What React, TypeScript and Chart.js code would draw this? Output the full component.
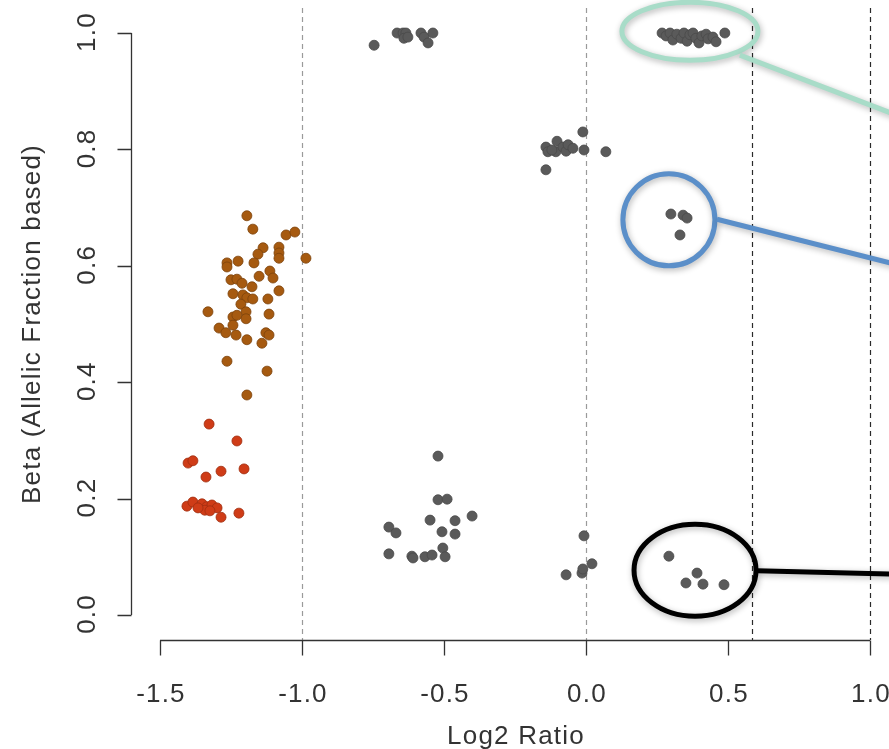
import React, { useEffect, useRef } from "react";
import { Chart, registerables } from "chart.js";
Chart.register(...registerables);

// ---- data (Log2 Ratio, Beta) ----
const grayTopLeft: [number, number][] = [
  [-0.746, 0.979], [-0.665, 1.0], [-0.644, 1.0], [-0.634, 1.0], [-0.641, 0.991],
  [-0.627, 0.993], [-0.581, 1.0], [-0.57, 0.993], [-0.556, 0.983], [-0.539, 1.0],
];
const grayTopRight: [number, number][] = [
  [0.268, 1.0], [0.282, 0.995], [0.296, 1.0], [0.306, 0.988], [0.32, 0.998], [0.335, 0.991],
  [0.345, 1.0], [0.356, 0.986], [0.366, 0.997], [0.377, 1.0], [0.387, 0.991], [0.398, 0.983],
  [0.408, 0.995], [0.423, 0.998], [0.43, 0.99], [0.447, 0.993], [0.458, 0.985], [0.489, 1.0],
];
const grayMidHigh: [number, number][] = [
  [-0.141, 0.804], [-0.134, 0.796], [-0.102, 0.814], [-0.106, 0.796], [-0.12, 0.799],
  [-0.081, 0.804], [-0.07, 0.797], [-0.063, 0.808], [-0.046, 0.802], [-0.011, 0.83],
  [-0.007, 0.799], [0.07, 0.796], [-0.141, 0.765],
];
const grayBlueGroup: [number, number][] = [
  [0.299, 0.689], [0.342, 0.687], [0.356, 0.682], [0.331, 0.653],
];
const grayBlackGroup: [number, number][] = [
  [0.292, 0.101], [0.391, 0.072], [0.352, 0.055], [0.412, 0.053], [0.486, 0.052],
];
const grayNearZero: [number, number][] = [
  [-0.007, 0.136], [0.021, 0.088], [-0.014, 0.072], [-0.011, 0.079], [-0.07, 0.069],
];
const grayLowMid: [number, number][] = [
  [-0.521, 0.273], [-0.521, 0.198], [-0.489, 0.199], [-0.694, 0.151], [-0.669, 0.141],
  [-0.549, 0.163], [-0.461, 0.162], [-0.401, 0.17], [-0.507, 0.143], [-0.461, 0.139],
  [-0.694, 0.105], [-0.613, 0.101], [-0.609, 0.098], [-0.567, 0.1], [-0.542, 0.103],
  [-0.504, 0.115], [-0.496, 0.1],
];
const brownPoints: [number, number][] = [
  [-1.194, 0.686], [-1.173, 0.663], [-1.056, 0.653], [-1.025, 0.658], [-1.137, 0.631],
  [-1.155, 0.62], [-1.081, 0.632], [-1.081, 0.622], [-1.081, 0.613], [-0.986, 0.613],
  [-1.264, 0.605], [-1.264, 0.598], [-1.225, 0.608], [-1.169, 0.605], [-1.151, 0.582],
  [-1.113, 0.591], [-1.102, 0.579], [-1.25, 0.576], [-1.229, 0.577], [-1.211, 0.57],
  [-1.176, 0.564], [-1.081, 0.557], [-1.243, 0.552], [-1.208, 0.55], [-1.194, 0.545],
  [-1.173, 0.543], [-1.12, 0.543], [-1.215, 0.534], [-1.331, 0.521], [-1.197, 0.521],
  [-1.116, 0.517], [-1.243, 0.512], [-1.229, 0.515], [-1.197, 0.509], [-1.243, 0.498],
  [-1.292, 0.493], [-1.268, 0.485], [-1.232, 0.481], [-1.127, 0.485], [-1.116, 0.481],
  [-1.194, 0.473], [-1.141, 0.467], [-1.264, 0.436], [-1.123, 0.419], [-1.194, 0.378],
];
const redPoints: [number, number][] = [
  [-1.327, 0.328], [-1.229, 0.299], [-1.401, 0.261], [-1.384, 0.265], [-1.338, 0.237],
  [-1.285, 0.247], [-1.204, 0.251], [-1.405, 0.187], [-1.384, 0.194], [-1.352, 0.191],
  [-1.335, 0.186], [-1.317, 0.189], [-1.299, 0.184], [-1.342, 0.18], [-1.324, 0.179],
  [-1.366, 0.184], [-1.285, 0.168], [-1.222, 0.175],
];

const xTicks = [-1.5, -1.0, -0.5, 0.0, 0.5, 1.0];
const xTickLabels = ["-1.5", "-1.0", "-0.5", "0.0", "0.5", "1.0"];
const yTicks = [0.0, 0.2, 0.4, 0.6, 0.8, 1.0];
const yTickLabels = ["0.0", "0.2", "0.4", "0.6", "0.8", "1.0"];
const lightRefLines = [-1.0, 0.0];
const darkRefLines = [0.585, 1.0];
const xTitle = "Log2 Ratio";
const yTitle = "Beta (Allelic Fraction based)";

// callout annotations (centres / line ends in data units)
const callouts = [
  { cx: 0.366, cy: 1.003, rx: 68, ry: 29, color: "#a8dcc8", from: [0.542, 0.962], to: [1.2, 0.839] },
  { cx: 0.292, cy: 0.679, rx: 46, ry: 46, color: "#5b8fc9", from: [0.461, 0.68], to: [1.2, 0.589] },
  { cx: 0.384, cy: 0.077, rx: 61, ry: 46, color: "#000000", from: [0.602, 0.076], to: [1.2, 0.069] },
];

const FONT = "26px 'Liberation Sans', Arial, Helvetica, sans-serif";
const TEXT = "#333333";

const toPts = (a: [number, number][]) => a.map(([x, y]) => ({ x, y }));

const rPlugin = {
  id: "rStyle",
  beforeDatasetsDraw(chart: any) {
    const { ctx, chartArea, scales } = chart;
    const xs = scales.x;
    ctx.save();
    ctx.lineWidth = 1.2;
    ctx.setLineDash([5, 4]);
    ctx.strokeStyle = "#9a9a9a";
    lightRefLines.forEach((v) => {
      const px = Math.round(xs.getPixelForValue(v)) + 0.5;
      ctx.beginPath();
      ctx.moveTo(px, chartArea.top);
      ctx.lineTo(px, chartArea.bottom);
      ctx.stroke();
    });
    ctx.strokeStyle = "#2a2a2a";
    darkRefLines.forEach((v) => {
      const px = Math.round(xs.getPixelForValue(v)) + 0.5;
      ctx.beginPath();
      ctx.moveTo(px, chartArea.top);
      ctx.lineTo(px, chartArea.bottom);
      ctx.stroke();
    });
    ctx.restore();
  },
  afterDatasetsDraw(chart: any) {
    const { ctx, chartArea, scales } = chart;
    const xs = scales.x;
    const ys = scales.y;
    ctx.save();
    // callouts
    callouts.forEach((c) => {
      ctx.save();
      ctx.shadowColor = "rgba(0,0,0,0.3)";
      ctx.shadowBlur = 6;
      ctx.shadowOffsetX = 1;
      ctx.shadowOffsetY = 2;
      ctx.strokeStyle = c.color;
      ctx.lineWidth = 5;
      ctx.beginPath();
      ctx.ellipse(xs.getPixelForValue(c.cx), ys.getPixelForValue(c.cy), c.rx, c.ry, 0, 0, Math.PI * 2);
      ctx.stroke();
      ctx.beginPath();
      ctx.moveTo(xs.getPixelForValue(c.from[0]), ys.getPixelForValue(c.from[1]));
      ctx.lineTo(xs.getPixelForValue(c.to[0]), ys.getPixelForValue(c.to[1]));
      ctx.stroke();
      ctx.restore();
    });

    // axes
    ctx.strokeStyle = "#333333";
    ctx.lineWidth = 1.3;
    ctx.setLineDash([]);
    const y0 = Math.round(chartArea.bottom) + 0.5;
    ctx.beginPath();
    ctx.moveTo(xs.getPixelForValue(xTicks[0]), y0);
    ctx.lineTo(xs.getPixelForValue(xTicks[xTicks.length - 1]), y0);
    xTicks.forEach((v) => {
      const px = Math.round(xs.getPixelForValue(v)) + 0.5;
      ctx.moveTo(px, y0);
      ctx.lineTo(px, y0 + 15);
    });
    ctx.stroke();
    const x0 = Math.round(chartArea.left) + 0.5;
    ctx.beginPath();
    ctx.moveTo(x0, ys.getPixelForValue(yTicks[0]));
    ctx.lineTo(x0, ys.getPixelForValue(yTicks[yTicks.length - 1]));
    yTicks.forEach((v) => {
      const py = Math.round(ys.getPixelForValue(v)) + 0.5;
      ctx.moveTo(x0, py);
      ctx.lineTo(x0 - 14, py);
    });
    ctx.stroke();

    // labels
    ctx.fillStyle = TEXT;
    ctx.font = FONT;
    (ctx as any).letterSpacing = "1.2px";
    ctx.textAlign = "center";
    ctx.textBaseline = "alphabetic";
    xTicks.forEach((v, i) => {
      ctx.fillText(xTickLabels[i], xs.getPixelForValue(v) + 1, 702);
    });
    ctx.fillText(xTitle, xs.getPixelForValue(-0.25) + 1, 744);
    yTicks.forEach((v, i) => {
      ctx.save();
      ctx.translate(95, ys.getPixelForValue(v) - 1);
      ctx.rotate(-Math.PI / 2);
      ctx.fillText(yTickLabels[i], 0, 0);
      ctx.restore();
    });
    ctx.save();
    ctx.translate(40, (chartArea.top + chartArea.bottom) / 2);
    ctx.rotate(-Math.PI / 2);
    ctx.fillText(yTitle, 0, 0);
    ctx.restore();
    ctx.restore();
  },
};

export default function App() {
  const ref = useRef<HTMLCanvasElement>(null);
  useEffect(() => {
    const gray = [
      ...grayTopLeft, ...grayTopRight, ...grayMidHigh, ...grayBlueGroup,
      ...grayBlackGroup, ...grayNearZero, ...grayLowMid,
    ];
    const chart = new Chart(ref.current as HTMLCanvasElement, {
      type: "scatter",
      data: {
        datasets: [
          {
            data: toPts(gray),
            backgroundColor: "#5a5a5a",
            borderColor: "#4a4a4a",
            borderWidth: 0.8,
            pointRadius: 5,
          },
          {
            data: toPts(brownPoints),
            backgroundColor: "#a65a10",
            borderColor: "#7c420b",
            borderWidth: 0.8,
            pointRadius: 5,
          },
          {
            data: toPts(redPoints),
            backgroundColor: "#cf3c17",
            borderColor: "#a02e10",
            borderWidth: 0.8,
            pointRadius: 5,
          },
        ],
      },
      options: {
        animation: false,
        responsive: false,
        maintainAspectRatio: false,
        devicePixelRatio: 1,
        layout: { autoPadding: false, padding: { left: 131, top: 8, right: 0, bottom: 109 } },
        plugins: { legend: { display: false }, tooltip: { enabled: false } },
        events: [],
        scales: {
          x: { type: "linear", min: -1.602, max: 1.067, display: false },
          y: { type: "linear", min: -0.043, max: 1.043, display: false },
        },
      },
      plugins: [rPlugin],
    });
    return () => chart.destroy();
  }, []);
  return (
    <div style={{ position: "fixed", left: 0, top: 0, width: 889, height: 749, background: "#ffffff" }}>
      <canvas ref={ref} width={889} height={749} style={{ display: "block", width: 889, height: 749 }} />
    </div>
  );
}
